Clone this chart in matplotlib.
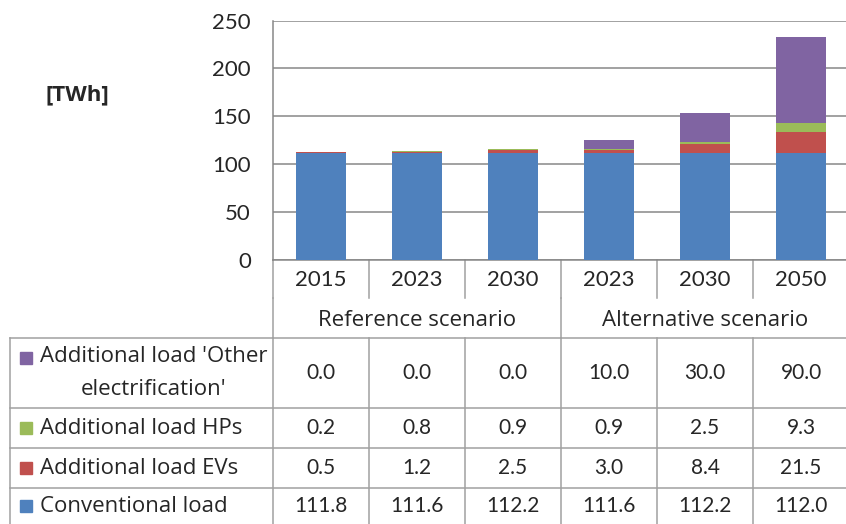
import numpy as np
import matplotlib
matplotlib.use("Agg")
import matplotlib.pyplot as plt

plt.rcParams["font.family"] = ["Lato", "DejaVu Sans"]

# Dati
years = ["2015", "2023", "2030", "2023", "2030", "2050"]
scenarios = ["Reference scenario", "Alternative scenario"]
conventional = [111.8, 111.6, 112.2, 111.6, 112.2, 112.0]
evs = [0.5, 1.2, 2.5, 3.0, 8.4, 21.5]
hps = [0.2, 0.8, 0.9, 0.9, 2.5, 9.3]
other = [0.0, 0.0, 0.0, 10.0, 30.0, 90.0]

series_names = ["Additional load 'Other\nelectrification'", "Additional load HPs",
                "Additional load EVs", "Conventional load"]
colors = ["#8064A2", "#9BBB59", "#C0504D", "#4F81BD"]

W, H = 846, 524
fig = plt.figure(figsize=(W / 100, H / 100), dpi=100)

# layout in pixel
L = 273          # bordo sinistro area grafico
CW = 96          # larghezza colonna
TOP, BOT = 20.5, 260
n = len(years)
R = L + n * CW

ax = fig.add_axes([L / W, (H - BOT) / H, (R - L) / W, (BOT - TOP) / H])
ax.set_zorder(2)
x = np.arange(n) + 0.5
bw = 0.52
b1 = np.array(conventional)
b2 = b1 + np.array(evs)
b3 = b2 + np.array(hps)
ax.bar(x, conventional, bw, color=colors[3], zorder=3)
ax.bar(x, evs, bw, bottom=b1, color=colors[2], zorder=3)
ax.bar(x, hps, bw, bottom=b2, color=colors[1], zorder=3)
ax.bar(x, other, bw, bottom=b3, color=colors[0], zorder=3)
ax.set_xlim(0, n)
ax.set_ylim(0, 250)
ax.set_yticks(range(0, 251, 50))
ax.set_xticks([])
ax.grid(axis="y", color="#878787", linewidth=1.1, zorder=0)
for s in ["top", "right"]:
    ax.spines[s].set_visible(False)
for s in ["left", "bottom"]:
    ax.spines[s].set_color("#878787")
    ax.spines[s].set_linewidth(1.1)
ax.tick_params(axis="y", length=0, pad=16, labelsize=16, labelcolor="#262626")
ax.patch.set_alpha(0)

# overlay in pixel per tabella
ov = fig.add_axes([0, 0, 1, 1])
ov.set_xlim(0, W)
ov.set_ylim(H, 0)
ov.axis("off")
lc = "#A0A0A0"
lw = 1.1
tc = "#262626"
fs = 15
lab_font = ["Open Sans", "DejaVu Sans"]

ov.text(77, 95, "[TWh]", ha="center", va="center", fontsize=16, fontweight="bold",
        color=tc, family=lab_font)

Y1, Y2, Y3 = 298, 338, H + 5
rows = [338, 408, 448, 488, H + 5]
for k in range(n + 1):
    xx = L + k * CW
    ov.plot([xx, xx], [BOT, Y1], color=lc, lw=lw)
    ov.plot([xx, xx], [Y2, Y3], color=lc, lw=lw)
for k in [0, 3, 6]:
    xx = L + k * CW
    ov.plot([xx, xx], [Y1, Y2], color=lc, lw=lw)
ov.plot([10, 10], [Y2, Y3], color=lc, lw=lw)
for yy in rows[:-1]:
    ov.plot([10, W], [yy, yy], color=lc, lw=lw)

for k, yr in enumerate(years):
    ov.text(L + (k + 0.5) * CW, 280, yr, ha="center", va="center", fontsize=16, color=tc)
for j, sc in enumerate(scenarios):
    ov.text(L + (3 * j + 1.5) * CW, 320, sc, ha="center", va="center", fontsize=16,
            color=tc, family=lab_font)

table_vals = [other, hps, evs, conventional]
for i, (name, col, vals) in enumerate(zip(series_names, colors, table_vals)):
    yc = (rows[i] + rows[i + 1]) / 2
    if i == 3:
        yc = 506
    first = yc - 15 if "\n" in name else yc
    ov.add_patch(plt.Rectangle((20, first - 6), 12, 12, color=col))
    ov.text(40, yc, name, ha="left", va="center", fontsize=16, color=tc,
            multialignment="center", linespacing=1.75, family=lab_font)
    for k, v in enumerate(vals):
        ov.text(L + (k + 0.5) * CW, yc, f"{v:.1f}", ha="center", va="center",
                fontsize=fs, color=tc)

fig.savefig("out.png", dpi=100)
